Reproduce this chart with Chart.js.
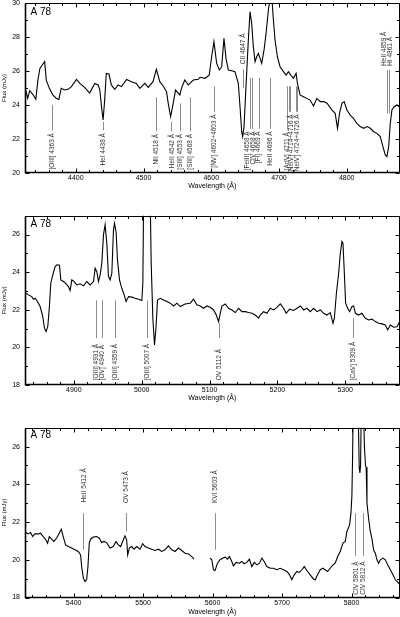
<!DOCTYPE html>
<html><head><meta charset="utf-8">
<script src="https://cdn.jsdelivr.net/npm/chart.js@4/dist/chart.umd.min.js"></script>
<style>
html,body{margin:0;padding:0;background:#fff;width:400px;height:617px;overflow:hidden}
canvas{position:absolute;left:0}
</style></head><body>
<canvas id="c1" width="400" height="195" style="top:0px"></canvas>
<canvas id="c2" width="400" height="202" style="top:205px"></canvas>
<canvas id="c3" width="400" height="200" style="top:417px"></canvas>
<script>
// ---------- DATA ----------
const objectName = 'A 78';
const xTitle = 'Wavelength (Å)';
const yTitle = 'Flux (mJy)';

// Panel 1
const wave1 = [4326,4329,4332,4337,4341,4344,4347,4350.5,4354,4356.5,4361,4366,4371,4375,4378.5,4383.5,4388.5,4393.5,4401,4406,4413,4420.5,4428,4433,4435.5,4438,4440.3,4442.7,4445,4449,4452.5,4457.5,4462.5,4467.5,4475,4482,4489.5,4494.5,4502,4507,4514,4519,4524,4529,4534,4536.5,4540,4543.8,4547.3,4553.7,4556,4561,4566,4573.5,4581,4583.3,4590.7,4597,4600.6,4604,4608,4612,4615.4,4618.8,4621.8,4625.2,4630,4635,4640,4642.5,4645,4646.4,4648.4,4651.3,4654.8,4657.3,4659.7,4662.2,4664.7,4667.1,4669.6,4672.1,4674.5,4678,4681,4684.4,4687,4689.5,4691.8,4694.2,4697.7,4701.6,4706.6,4710.5,4714,4717.4,4721.4,4725.3,4727.3,4731.2,4736.2,4741,4746,4751,4756,4761,4766,4771,4778,4783,4786.5,4789.4,4793,4796.3,4800.3,4805.2,4810,4815,4820,4825,4830,4835,4840,4844.6,4849.6,4853.5,4857,4859.4,4862,4864.4,4866.8,4870.3,4874.2,4878.2];
const flux1 = [24.88,24.4,24.84,24.6,24.33,25.45,26.15,26.35,26.55,25.45,24.98,24.6,24.4,24.33,24.98,24.88,24.92,25.08,25.5,25.27,25.04,24.7,25.27,25.18,24.88,23.9,23.12,24.3,25.86,25.82,25.18,24.92,25.18,25.08,25.5,25.37,25.27,24.98,25.27,25.04,25.37,26.1,25.37,25.12,24.78,24.1,23.31,24.1,24.88,24.59,24.98,25.47,25.18,25.47,25.51,25.63,25.57,25.76,26.84,27.73,26.45,26.06,26.25,27.92,26.74,26.06,26.02,25.96,25.27,23.9,22.43,22.14,22.73,25.08,27.82,29.49,28.8,27.43,26.55,26.84,27.04,26.74,26.45,27.24,28.22,29.59,30.3,30.3,29.0,27.82,26.84,26.25,25.96,25.76,25.96,25.76,25.57,25.86,25.27,24.59,24.49,24.39,24.29,23.94,24.39,24.2,24.2,24.1,23.71,23.51,22.63,23.51,24.1,24.2,23.71,23.41,23.22,22.92,22.73,22.63,22.73,22.63,22.43,22.33,22.14,21.55,21.06,20.96,21.55,22.92,23.71,23.9,24.0,23.9];

// Panel 2
const wave2 = [4829.6,4833,4838,4840.5,4843,4846.4,4850.3,4854.2,4856.7,4859.1,4861.6,4864,4866,4869,4872.4,4874.9,4878.8,4880.8,4884.7,4888.6,4892,4894.5,4897,4900.4,4904.4,4909.3,4914.2,4919,4924,4929,4931.4,4933.9,4936.3,4938.8,4941.2,4943.7,4946.1,4948.6,4951,4953.5,4956,4958.4,4960,4962.4,4964.3,4967.3,4970.7,4974.2,4977,4980.6,4985.5,4990.4,4995.3,5000.2,5001.7,5003,5005,5007.5,5010,5012.5,5014,5016.5,5018.9,5021,5023.3,5027.3,5032.2,5037.1,5042,5047,5052,5056.8,5064,5071.5,5076.4,5081.3,5086.3,5091.2,5096,5101,5106,5110,5113.3,5115.8,5118.3,5123.2,5128,5133,5138,5142.8,5147.7,5152.7,5157.6,5162.5,5167.4,5172.3,5174.8,5179.7,5184.6,5189.5,5194.5,5199.4,5204.3,5209.2,5213,5218,5224,5229,5233.8,5238.7,5243.6,5248.5,5253.4,5258.4,5263.3,5268.2,5273,5278,5282,5284,5287,5290.3,5292.8,5295.2,5296.7,5298.7,5300.6,5303.6,5306.5,5310,5312.4,5315,5319.8,5324.7,5329.6,5334.6,5339.5,5344.4,5349.3,5354.2,5359,5362.6,5366.5,5371.4,5376.3,5380.3];
const flux2 = [22.88,22.79,22.7,22.56,22.61,22.44,22.17,21.64,21.02,20.84,21.11,22.17,23.41,23.85,24.3,24.39,24.37,23.59,23.5,23.38,23.23,23.02,23.59,23.5,23.32,23.38,23.27,23.5,23.32,23.5,24.21,24.03,23.5,23.85,24.48,25.98,26.52,25.54,23.77,23.59,23.94,26.25,26.6,26.07,24.65,23.59,23.14,22.79,22.44,22.7,22.67,22.61,22.56,22.49,23.41,28.5,36,40,36,28,24.5,21.5,20.13,21.0,22.52,22.61,22.52,22.44,22.35,22.2,22.35,22.17,22.31,22.35,22.56,22.26,22.2,22.08,22.2,22.13,21.99,21.72,21.37,21.81,22.2,22.31,22.08,21.99,21.85,22.08,21.9,21.9,21.85,21.81,21.72,21.55,21.72,21.9,21.81,22.08,21.99,22.13,22.31,22.08,21.81,22.03,21.96,22.08,22.2,21.99,22.08,21.9,22.08,21.9,21.99,21.81,21.72,21.85,21.28,21.55,22.88,23.94,25.01,25.63,25.54,23.94,22.35,22.08,21.9,22.17,22.2,21.81,21.72,21.81,21.55,21.46,21.5,21.37,21.28,21.25,21.19,20.93,21.19,21.07,21.1,21.37];

// Panel 3 (null = gap in the spectrum)
const wave3 = [5331.3,5334.6,5338,5341,5344.2,5349,5352.4,5356.2,5360,5362.5,5365,5368.2,5371.6,5375.4,5379.3,5382.2,5385,5388.4,5392.3,5397,5402,5406.7,5410,5411.5,5414,5416.3,5418.7,5420.6,5422.5,5424.4,5428.3,5433,5437,5440.3,5443.7,5447.5,5452.3,5457,5461,5464.3,5467.7,5470.5,5473.9,5476.3,5477.8,5480.2,5483.5,5487,5490.7,5495.5,5499.4,5502.7,5507.5,5512.3,5517,5522,5526.7,5531.5,5536.4,5541.2,5546,5550.8,5555.6,5560.4,5565.2,5570,5573.3,5585,5596.4,5598.8,5601.2,5603.6,5607,5610.8,5614.7,5618,5621.4,5624.3,5627.6,5630,5634,5638.7,5642,5645.4,5649.2,5653,5656.4,5660,5663.7,5667.5,5671,5674.2,5678,5683,5687.7,5692.5,5697.3,5702,5707,5710.7,5714,5717.4,5721.3,5725,5728.5,5732,5735.7,5740.5,5745.3,5747.7,5751,5755,5758.7,5762,5765.5,5769.3,5773.2,5776.5,5780,5783.7,5787.6,5791,5793.3,5797.2,5799.1,5800.5,5801.5,5802.5,5805,5808,5809,5810,5811,5812,5813,5814,5815,5816.5,5817.3,5818.5,5820,5821,5822.2,5824.5,5827,5829.4,5831.8,5834.2,5836.6,5839,5841.4,5845.2,5848.6,5852,5855.8,5859.6,5863,5865.4,5869.2];
const flux3 = [21.44,21.37,21.44,21.23,21.37,21.37,21.41,21.23,21.06,20.88,21.23,21.09,20.97,21.14,21.41,21.62,21.23,20.79,20.7,20.62,20.53,20.44,20.26,19.64,19.03,18.85,18.94,19.64,20.88,21.09,21.2,21.23,21.14,20.91,20.97,20.91,20.62,20.7,20.97,20.79,20.7,20.97,21.27,21.06,20.26,20.62,20.7,20.56,20.7,20.56,20.85,20.7,20.62,20.56,20.49,20.56,20.44,20.53,20.74,20.53,20.44,20.62,20.49,20.35,20.31,20.17,20.03,null,20.09,20.0,19.47,19.43,19.82,20.0,20.09,20.14,20.03,20.17,19.91,19.68,19.86,19.82,19.91,19.79,19.86,20.03,19.64,19.86,19.73,19.82,20.09,19.91,19.64,19.55,19.55,19.47,19.55,19.47,19.38,19.2,18.94,19.2,19.38,19.33,19.47,19.64,19.43,19.2,18.97,18.94,19.2,19.47,19.55,19.47,19.38,19.55,19.73,19.82,20.17,20.44,20.88,20.97,21.5,21.85,22.47,23.4,25.5,29,34,33,30,27,24.9,24.6,25,28,32,33,28,26,25,24.9,23.0,22.2,21.5,21.1,20.5,20.35,20.0,19.82,20.0,20.09,20.0,19.73,19.47,19.2,18.94,18.85,18.7];

// Tick labels
const xTicks1 = [4400,4500,4600,4700,4800];
const xTicks2 = [4900,5000,5100,5200,5300];
const xTicks3 = [5400,5500,5600,5700,5800];
const yTicks1 = [20,22,24,26,28,30];
const yTicks2 = [18,20,22,24,26];
const yTicks3 = [18,20,22,24,26];

// Line identifications: wavelengths of marker(s), marker span (flux), label, label anchor flux
const lines1 = [
  {w:[4364.5], y1:24.0, y2:22.5, t:'[OIII] 4363 Å', ty:22.35, a:'end'},
  {w:[4440], y1:23.0, y2:22.5, t:'HeI 4438 Å', ty:22.35, a:'end'},
  {w:[4518.5], y1:24.45, y2:22.45, t:'NII 4518 Å', ty:22.3, a:'end'},
  {w:[4541], y1:23.0, y2:22.45, t:'HeII 4542 Å', ty:22.3, a:'end'},
  {w:[4554], y1:24.1, y2:22.45, t:'[SIII] 4553 Å', ty:22.3, a:'end'},
  {w:[4568.5], y1:24.45, y2:22.45, t:'[SIII] 4568 Å', ty:22.3, a:'end'},
  {w:[4604], y1:25.1, y2:23.6, t:'[NV] 4602+4603 Å', ty:23.45, a:'end'},
  {w:[4646.5], y1:26.1, y2:25.0, t:'CII 4647 Å', ty:26.4, a:'start'},
  {w:[4657.5], y1:25.6, y2:22.6, t:'[FeIII] 4658 Å', ty:22.45, a:'end', tw:4652.5},
  {w:[4660], y1:25.6, y2:22.6, t:'CIV 4658 Å', ty:22.45, a:'end', tw:4660.5},
  {w:[4670], y1:25.6, y2:22.6, t:'[FI] 4669 Å', ty:22.45, a:'end', tw:4669},
  {w:[4686.8], y1:25.6, y2:22.6, t:'HeII 4686 Å', ty:22.45, a:'end'},
  {w:[4712.5], y1:25.1, y2:22.55, t:'[ArIV] 4711 Å', ty:22.4, a:'end', tw:4711.5},
  {w:[4714.5,4716.5], y1:25.1, y2:23.6, t:'[NeIV] 4714+4716 Å', ty:23.45, a:'end', tw:4718},
  {w:[4724.8,4726.8], y1:25.1, y2:23.6, t:'[NeIV] 4724+4726 Å', ty:23.45, a:'end', tw:4726.5},
  {w:[4859.6], y1:26.06, y2:23.5, t:'HeII 4859 Å', ty:26.3, a:'start', tw:4854.6},
  {w:[4862], y1:26.06, y2:23.5, t:'HI 4861 Å', ty:26.3, a:'start', tw:4863.6}
];
const lines2 = [
  {w:[4932.4], y1:22.5, y2:20.5, t:'[OIII] 4931 Å', ty:18.25, a:'start'},
  {w:[4940.8], y1:22.5, y2:20.5, t:'[OV] 4940 Å', ty:18.25, a:'start'},
  {w:[4960.4], y1:22.5, y2:20.5, t:'[OIII] 4959 Å', ty:18.25, a:'start'},
  {w:[5008.1], y1:22.5, y2:20.5, t:'[OIII] 5007 Å', ty:18.25, a:'start'},
  {w:[5113.3], y1:21.3, y2:20.5, t:'OV 5112 Å', ty:18.25, a:'start'},
  {w:[5311.5], y1:21.55, y2:20.5, t:'[CaV] 5309 Å', ty:18.25, a:'start'}
];
const lines3 = [
  {w:[5413.9], y1:22.47, y2:20.53, t:'HeII 5412 Å', ty:24.85, a:'end'},
  {w:[5474.9], y1:22.47, y2:21.5, t:'OV 5473 Å', ty:24.7, a:'end'},
  {w:[5603.6], y1:22.47, y2:20.53, t:'KVI 5603 Å', ty:24.75, a:'end'},
  {w:[5805.3], y1:22.47, y2:20.2, t:'CIV 5801 Å', ty:18.15, a:'start'},
  {w:[5816], y1:22.47, y2:20.2, t:'CIV 5812 Å', ty:18.15, a:'start'}
];

// ---------- DRAWING ----------
const FONT = "'Liberation Sans', Arial, Helvetica, sans-serif";
Chart.defaults.font.family = FONT;
Chart.defaults.color = '#000';

const deco = {
  id: 'deco',
  afterDatasetsDraw(chart, args, o) {
    const {ctx, chartArea: a} = chart;
    const xs = chart.scales.x, ys = chart.scales.y;
    const L = Math.round(a.left) + 0.5, R = Math.round(a.right) - 0.5;
    const T = Math.round(a.top) + 0.5, B = Math.round(a.bottom) - 0.5;
    ctx.save();
    // identification markers
    ctx.strokeStyle = '#8c8c8c';
    ctx.lineWidth = 1;
    ctx.fillStyle = '#333';
    ctx.font = '6.5px ' + FONT;
    ctx.textBaseline = 'middle';
    for (const m of o.lines) {
      ctx.beginPath();
      for (const w of m.w) {
        const px = Math.round(xs.getPixelForValue(w)) + 0.5;
        ctx.moveTo(px, ys.getPixelForValue(m.y1));
        ctx.lineTo(px, ys.getPixelForValue(m.y2));
      }
      ctx.stroke();
      const tw = m.tw !== undefined ? m.tw : m.w.reduce((s, v) => s + v, 0) / m.w.length;
      ctx.save();
      ctx.translate(xs.getPixelForValue(tw), ys.getPixelForValue(m.ty));
      ctx.rotate(-Math.PI / 2);
      ctx.textAlign = m.a === 'end' ? 'right' : 'left';
      ctx.fillText(m.t, 0, 0.5);
      ctx.restore();
    }
    // frame
    ctx.strokeStyle = '#000';
    ctx.lineWidth = 1;
    ctx.beginPath();
    ctx.rect(L, T, R - L, B - T);
    ctx.stroke();
    ctx.lineWidth = 1.6;
    ctx.beginPath();
    ctx.moveTo(L, T); ctx.lineTo(L, B); ctx.lineTo(R, B);
    ctx.stroke();
    // inward ticks
    ctx.lineWidth = 1;
    ctx.beginPath();
    const x0 = Math.ceil(xs.min / o.xMinor) * o.xMinor;
    for (let v = x0; v <= xs.max; v += o.xMinor) {
      const p = Math.round(xs.getPixelForValue(v)) + 0.5;
      const len = (v % o.xMajor === 0) ? 4 : 2.5;
      ctx.moveTo(p, B); ctx.lineTo(p, B - len);
      ctx.moveTo(p, T); ctx.lineTo(p, T + len);
    }
    for (let v = Math.ceil(ys.min); v <= ys.max; v += 1) {
      const p = Math.round(ys.getPixelForValue(v)) + 0.5;
      const len = (v % 2 === 0) ? 4 : 2.5;
      ctx.moveTo(L, p); ctx.lineTo(L + len, p);
      ctx.moveTo(R, p); ctx.lineTo(R - len, p);
    }
    ctx.stroke();
    // object name
    ctx.fillStyle = '#000';
    ctx.font = '10px ' + FONT;
    ctx.textAlign = 'left';
    ctx.textBaseline = 'alphabetic';
    ctx.fillText(objectName, a.left + 5.5, a.top + o.nameDy);
    ctx.restore();
  }
};

function makeChart(id, wave, flux, xr, yr, xt, yt, lines, lay) {
  const pts = wave.map((w, i) => ({x: w, y: flux[i]}));
  return new Chart(document.getElementById(id), {
    type: 'line',
    data: {datasets: [{data: pts, borderColor: '#000', borderWidth: 1.1, pointRadius: 0, tension: 0, fill: false, spanGaps: false}]},
    options: {
      responsive: false, animation: false, devicePixelRatio: 1,
      layout: {padding: {top: lay.padTop, right: 0.5, left: 0, bottom: 0}},
      plugins: {legend: {display: false}, tooltip: {enabled: false},
        deco: {lines, xMinor: 20, xMajor: 100, nameDy: lay.nameDy}},
      scales: {
        x: {
          type: 'linear', min: xr[0], max: xr[1],
          grid: {display: false, drawTicks: false}, border: {display: false},
          ticks: {font: {size: 7}, padding: lay.tickPad, color: '#000', maxRotation: 0, autoSkip: false, includeBounds: false, callback: v => String(v)},
          afterBuildTicks: s => { s.ticks = xt.map(v => ({value: v})); },
          afterFit: s => { s.height = lay.xh; s.paddingLeft = 0; s.paddingRight = 0; },
          title: {display: true, text: xTitle, font: {size: 7}, color: '#000', padding: {top: 0, bottom: lay.titlePad}}
        },
        y: {
          min: yr[0], max: yr[1],
          grid: {display: false, drawTicks: false}, border: {display: false},
          ticks: {font: {size: 7}, padding: 5, color: '#000', callback: v => String(v)},
          afterBuildTicks: s => { s.ticks = yt.map(v => ({value: v})); },
          afterFit: s => { s.width = 25; s.paddingTop = 0; s.paddingBottom = 0; },
          title: {display: true, text: yTitle, font: {size: 6}, color: '#000', padding: {top: 1, bottom: 0}}
        }
      }
    },
    plugins: [deco]
  });
}

makeChart('c1', wave1, flux1, [4325, 4878], [20, 30], xTicks1, yTicks1, lines1,
  {padTop: 3, xh: 22, titlePad: 4.8, tickPad: 1, nameDy: 12});
makeChart('c2', wave2, flux2, [4828, 5380], [18, 27], xTicks2, yTicks2, lines2,
  {padTop: 10.7, xh: 22, titlePad: 4.8, tickPad: 1, nameDy: 11.6});
makeChart('c3', wave3, flux3, [5330, 5869], [18, 27], xTicks3, yTicks3, lines3,
  {padTop: 10.7, xh: 19.5, titlePad: 0.8, tickPad: 1, nameDy: 10.6});
</script>
</body></html>
